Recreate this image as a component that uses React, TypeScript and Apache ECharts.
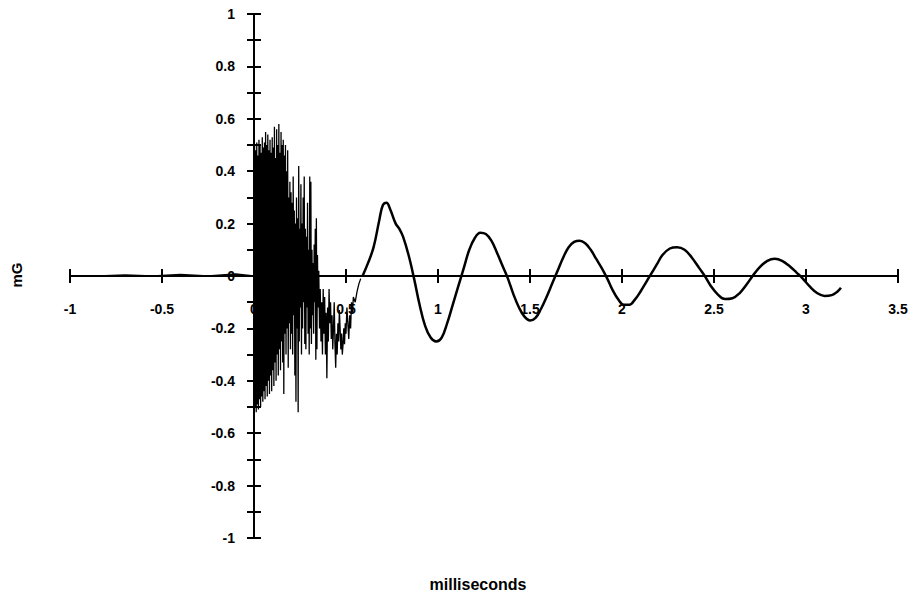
import React, { useEffect, useRef } from "react";
import * as echarts from "echarts";

// pre-trigger baseline
const flatX = [-0.85, -0.7, -0.55, -0.4, -0.25, -0.1, 0.0];
const flatY = [0.0, 0.004, 0.0, 0.006, 0.0, 0.008, 0.0];

// dense high-frequency burst
const burstX = [
  0.003, 0.006, 0.009, 0.012, 0.015, 0.018, 0.021, 0.024, 0.027, 0.03,
  0.033, 0.036, 0.039, 0.042, 0.045, 0.048, 0.051, 0.054, 0.057, 0.06,
  0.063, 0.066, 0.069, 0.072, 0.075, 0.078, 0.081, 0.084, 0.087, 0.09,
  0.093, 0.096, 0.099, 0.102, 0.105, 0.108, 0.111, 0.114, 0.117, 0.12,
  0.123, 0.126, 0.129, 0.132, 0.135, 0.138, 0.141, 0.144, 0.147, 0.15,
  0.153, 0.156, 0.159, 0.162, 0.165, 0.168, 0.171, 0.174, 0.177, 0.18,
  0.183, 0.186, 0.189, 0.192, 0.195, 0.198, 0.201, 0.204, 0.207, 0.21,
  0.213, 0.216, 0.219, 0.222, 0.225, 0.228, 0.231, 0.234, 0.237, 0.24,
  0.243, 0.246, 0.249, 0.252, 0.255, 0.258, 0.261, 0.264, 0.267, 0.27,
  0.273, 0.276, 0.279, 0.282, 0.285, 0.288, 0.291, 0.294, 0.297, 0.3,
  0.303, 0.306, 0.309, 0.312, 0.315, 0.318, 0.321, 0.324, 0.327, 0.33,
  0.333, 0.336, 0.339, 0.342, 0.345, 0.348, 0.352, 0.356, 0.36, 0.364,
  0.368, 0.372, 0.376, 0.38, 0.384, 0.388, 0.392, 0.396, 0.4, 0.404,
  0.408, 0.412, 0.416, 0.42, 0.424, 0.428, 0.432, 0.436, 0.44, 0.444,
  0.448, 0.452, 0.456, 0.46, 0.464, 0.468, 0.472, 0.476, 0.48, 0.484,
  0.488, 0.492, 0.496, 0.5, 0.505, 0.51, 0.515, 0.52, 0.525, 0.53,
  0.535, 0.54, 0.55, 0.56, 0.57, 0.58,
];
const burstY = [
  0.5, -0.5, 0.48, -0.52, 0.51, -0.49, 0.46, -0.51, 0.52, -0.47,
  0.5, -0.5, 0.47, -0.46, 0.53, -0.48, 0.49, -0.44, 0.51, -0.47,
  0.55, -0.42, 0.5, -0.46, 0.54, -0.4, 0.48, -0.45, 0.52, -0.38,
  0.47, -0.44, 0.53, -0.36, 0.49, -0.42, 0.57, -0.33, 0.45, -0.4,
  0.56, -0.3, 0.5, -0.38, 0.58, -0.28, 0.47, -0.36, 0.55, -0.25,
  0.5, -0.33, 0.52, -0.45, 0.46, -0.22, 0.5, -0.3, 0.4, -0.2,
  0.48, -0.35, 0.3, -0.18, 0.36, -0.28, 0.32, -0.22, 0.28, -0.3,
  0.38, -0.15, 0.25, -0.38, 0.2, -0.48, 0.3, -0.2, 0.22, -0.52,
  0.42, -0.25, 0.18, -0.12, 0.35, -0.3, 0.2, -0.2, 0.3, -0.1,
  0.38, -0.26, 0.18, -0.28, 0.15, -0.12, 0.28, -0.22, 0.1, -0.3,
  0.38, -0.2, 0.36, -0.26, 0.1, -0.15, 0.05, -0.22, 0.12, -0.1,
  0.18, -0.32, 0.22, -0.28, 0.08, -0.12, 0.02, -0.2, -0.05, -0.25,
  -0.1, -0.3, -0.05, -0.22, -0.08, -0.3, -0.14, -0.39, -0.12, -0.25,
  -0.05, -0.18, -0.1, -0.24, -0.15, -0.28, -0.2, -0.1, -0.26, -0.35,
  -0.22, -0.3, -0.18, -0.25, -0.13, -0.2, -0.28, -0.22, -0.3, -0.26,
  -0.2, -0.26, -0.18, -0.22, -0.12, -0.18, -0.24, -0.15, -0.2, -0.1,
  -0.14, -0.08, -0.1, -0.06, -0.03, -0.01,
];

// damped ringing
const ringX = [
  0.59, 0.62, 0.65, 0.68, 0.7, 0.72, 0.74, 0.77, 0.79, 0.81,
  0.84, 0.87, 0.9, 0.93, 0.96, 0.99, 1.02, 1.05, 1.08, 1.11,
  1.14, 1.17, 1.2, 1.23, 1.26, 1.29, 1.32, 1.35, 1.38, 1.41,
  1.44, 1.47, 1.5, 1.53, 1.56, 1.59, 1.62, 1.65, 1.68, 1.71,
  1.74, 1.77, 1.8, 1.83, 1.86, 1.89, 1.92, 1.95, 1.98, 2.01,
  2.04, 2.07, 2.1, 2.13, 2.16, 2.19, 2.22, 2.26, 2.3, 2.34,
  2.38, 2.42, 2.45, 2.48, 2.52, 2.56, 2.6, 2.64, 2.68, 2.71,
  2.75, 2.79, 2.83, 2.87, 2.91, 2.95, 2.98, 3.02, 3.06, 3.1,
  3.14, 3.17, 3.19,
];
const ringY = [
  0.0, 0.05, 0.11, 0.21, 0.27, 0.28, 0.255, 0.2, 0.18, 0.15,
  0.08, -0.01, -0.11, -0.19, -0.235, -0.25, -0.235, -0.18, -0.11, -0.04,
  0.03, 0.1, 0.145, 0.165, 0.16, 0.135, 0.09, 0.04, -0.01, -0.07,
  -0.12, -0.155, -0.17, -0.16, -0.125, -0.08, -0.03, 0.02, 0.07, 0.11,
  0.13, 0.135, 0.125, 0.1, 0.065, 0.03, -0.01, -0.055, -0.09, -0.11,
  -0.11, -0.09, -0.06, -0.025, 0.01, 0.045, 0.08, 0.105, 0.11, 0.1,
  0.07, 0.03, 0.0, -0.035, -0.07, -0.088, -0.085, -0.065, -0.03, 0.0,
  0.035, 0.058, 0.066, 0.058, 0.038, 0.012, -0.008, -0.04, -0.065, -0.076,
  -0.073, -0.06, -0.045,
];

// tick labels
const xTickLabels = ["-1", "-0.5", "0", "0.5", "1", "1.5", "2", "2.5", "3", "3.5"];
const yTickLabels = ["-1", "-0.8", "-0.6", "-0.4", "-0.2", "0", "0.2", "0.4", "0.6", "0.8", "1"];

const zip = (xs: number[], ys: number[]) => xs.map((x, i) => [x, ys[i]]);

const FONT = "'Liberation Sans', Arial, sans-serif";

export default function App() {
  const ref = useRef<HTMLDivElement>(null);
  useEffect(() => {
    if (!ref.current) return;
    const chart = echarts.init(ref.current, null, { renderer: "svg" });
    const xBase = { type: "value", min: -1, max: 3.5, interval: 0.5, splitLine: { show: false }, position: "bottom" };
    const yBase = { type: "value", min: -1, max: 1, interval: 0.1, splitLine: { show: false }, position: "left" };
    const tickStyle = { color: "#000", width: 2 };
    const labelStyle = { color: "#000", fontFamily: FONT, fontWeight: "bold", fontSize: 14 };
    const fmtX = (v: number) => {
      const s = String(Math.round(v * 10) / 10);
      return xTickLabels.includes(s) ? s : "";
    };
    const fmtY = (v: number) => {
      const t = Math.round(v * 10);
      if (t % 2 !== 0) return "";
      const s = String(t / 10);
      return yTickLabels.includes(s) ? s : "";
    };
    chart.setOption({
      animation: false,
      backgroundColor: "#ffffff",
      grid: [
        { left: 70, right: 17, top: 14, bottom: 64, containLabel: false },
        // label band for x: bottom edge sits on y = 0
        { left: 70, right: 17, top: 14, height: 262, containLabel: false },
        // label band for y: left edge sits on x = 0
        { left: 254, right: 17, top: 14, bottom: 64, containLabel: false },
      ],
      xAxis: [
        {
          ...xBase,
          gridIndex: 0,
          axisLine: { onZero: true, lineStyle: { color: "#000", width: 2 } },
          axisTick: { inside: false, length: 7, lineStyle: tickStyle },
          axisLabel: { show: false },
        },
        {
          ...xBase,
          gridIndex: 0,
          axisLine: { show: false, onZero: true },
          axisTick: { inside: true, length: 7, lineStyle: tickStyle },
          axisLabel: { show: false },
        },
        {
          ...xBase,
          gridIndex: 1,
          axisLine: { show: false, onZero: false },
          axisTick: { show: false },
          axisLabel: { ...labelStyle, margin: 26, formatter: fmtX },
        },
        {
          ...xBase,
          gridIndex: 2,
          show: false,
        },
      ],
      yAxis: [
        {
          ...yBase,
          gridIndex: 0,
          axisLine: { onZero: true, lineStyle: { color: "#000", width: 2 } },
          axisTick: { inside: false, length: 7, lineStyle: tickStyle },
          axisLabel: { show: false },
        },
        {
          ...yBase,
          gridIndex: 0,
          axisLine: { show: false, onZero: true },
          axisTick: { inside: true, length: 7, lineStyle: tickStyle },
          axisLabel: { show: false },
        },
        {
          ...yBase,
          gridIndex: 1,
          show: false,
        },
        {
          ...yBase,
          gridIndex: 2,
          axisLine: { show: false, onZero: false },
          axisTick: { show: false },
          axisLabel: { ...labelStyle, margin: 19, formatter: fmtY },
        },
      ],
      graphic: [
        {
          type: "text",
          x: 16,
          y: 275,
          rotation: Math.PI / 2,
          style: {
            text: "mG",
            fill: "#000",
            font: `bold 15px ${FONT}`,
            textAlign: "center",
            textVerticalAlign: "middle",
          },
        },
        {
          type: "text",
          x: 478,
          y: 584,
          style: {
            text: "milliseconds",
            fill: "#000",
            font: `bold 16px ${FONT}`,
            textAlign: "center",
            textVerticalAlign: "middle",
          },
        },
      ],
      series: [
        {
          type: "line",
          data: zip(flatX, flatY),
          showSymbol: false,
          lineStyle: { color: "#000", width: 1.5 },
          xAxisIndex: 0,
          yAxisIndex: 0,
        },
        {
          type: "line",
          data: zip(burstX, burstY),
          showSymbol: false,
          lineStyle: { color: "#000", width: 1.3 },
          xAxisIndex: 0,
          yAxisIndex: 0,
        },
        {
          type: "line",
          data: zip(ringX, ringY),
          showSymbol: false,
          smooth: 0.4,
          lineStyle: { color: "#000", width: 2.5 },
          xAxisIndex: 0,
          yAxisIndex: 0,
        },
      ],
    });
    return () => chart.dispose();
  }, []);
  return (
    <div
      ref={ref}
      style={{ position: "fixed", left: 0, top: 0, width: 915, height: 602 }}
    />
  );
}
